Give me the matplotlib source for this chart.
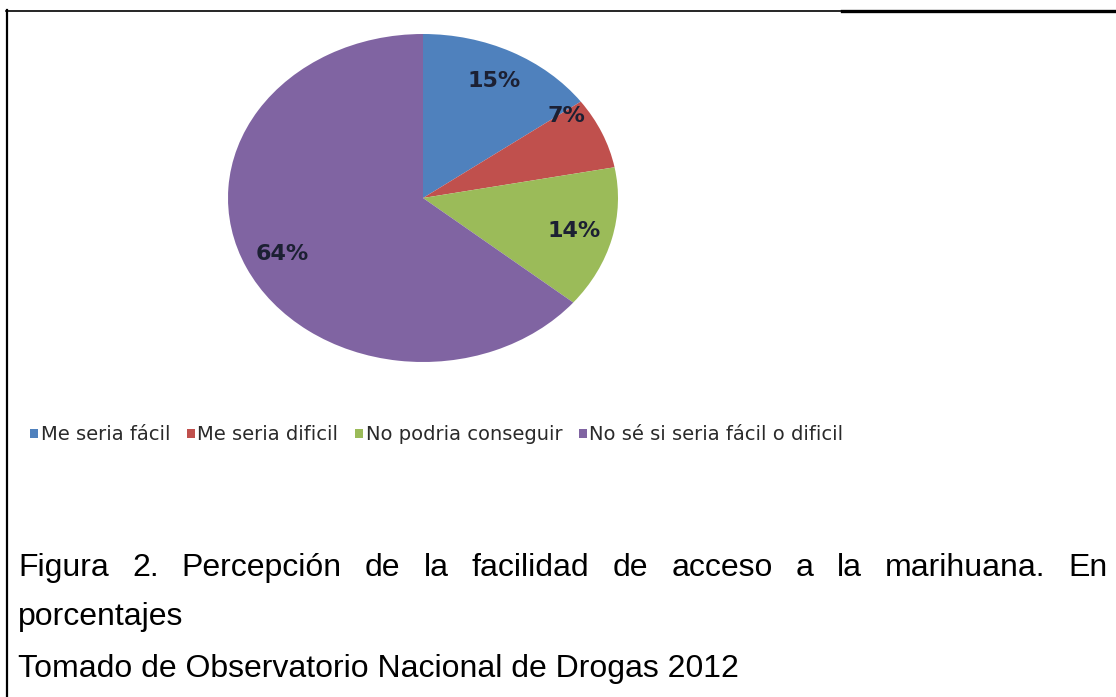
import matplotlib.pyplot as plt
from matplotlib.patches import Patch
from matplotlib.lines import Line2D

categories = ['Me seria fácil', 'Me seria dificil', 'No podria conseguir',
              'No sé si seria fácil o dificil']
values = [15, 7, 14, 64]
colors = ['#4F81BD', '#C0504D', '#9BBB59', '#8064A2']

caption_line1 = 'Figura 2. Percepción de la facilidad de acceso a la marihuana. En'
caption_line2 = 'porcentajes'
caption_line3 = 'Tomado de Observatorio Nacional de Drogas 2012'

W, H = 1116, 697
fig = plt.figure(figsize=(W / 100, H / 100), dpi=100)

# pie is stretched sideways in the original, so use an ellipse-shaped axes
cx, cy, rx, ry = 423, 198, 195, 164
ax = fig.add_axes([(cx - rx) / W, 1 - (cy + ry) / H, 2 * rx / W, 2 * ry / H])
wedges, texts, autotexts = ax.pie(
    values, colors=colors, startangle=90, counterclock=False,
    autopct=lambda p: f'{p:.0f}%', pctdistance=0.8,
    wedgeprops=dict(linewidth=0),
    textprops=dict(fontsize=16, fontweight='bold', color='#1c2033',
                   family='DejaVu Sans'))
px, py = autotexts[1].get_position()
autotexts[1].set_position((px, py + 0.18))
ax.set_aspect('auto')
ax.set_xlim(-1, 1)
ax.set_ylim(-1, 1)
ax.axis('off')

handles = [Patch(facecolor=c, edgecolor='none') for c in colors]
fig.legend(handles, categories, loc='center left', bbox_to_anchor=(30 / W, 1 - 435 / H),
           ncol=4, frameon=False, borderpad=0, borderaxespad=0,
           handlelength=0.4, handleheight=0.4, handletextpad=0.15,
           columnspacing=0.85,
           prop=dict(family='DejaVu Sans', size=14), labelcolor='#2a2a2a')

# caption, first line justified
cap = dict(family='Liberation Sans', size=23, color='black', va='baseline')
x0, x1 = 18, 1108
words = caption_line1.split(' ')
objs = [fig.text(0, 1 - 576 / H, w, **cap) for w in words]
r = fig.canvas.get_renderer()
widths = [t.get_window_extent(r).width for t in objs]
gap = (x1 - x0 - sum(widths)) / (len(words) - 1)
x = x0
for t, w in zip(objs, widths):
    t.set_x(x / W)
    x += w + gap
fig.text(x0 / W, 1 - 625 / H, caption_line2, **cap)
fig.text(x0 / W, 1 - 677 / H, caption_line3, **cap)

# frame lines
fig.add_artist(Line2D([7 / W, 7 / W], [0, 1 - 10 / H], color='black', lw=1.6))
fig.add_artist(Line2D([6 / W, 842 / W], [1 - 11 / H, 1 - 11 / H], color='black', lw=1.2))
fig.add_artist(Line2D([842 / W, 1], [1 - 11 / H, 1 - 11 / H], color='black', lw=2.4))

fig.savefig('out.png', dpi=100)
